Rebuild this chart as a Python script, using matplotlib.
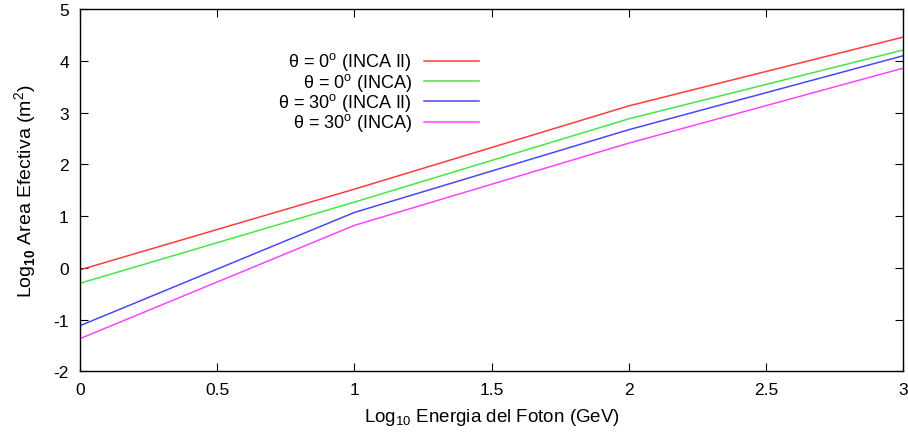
import matplotlib
matplotlib.use("Agg")
import matplotlib.pyplot as plt
from matplotlib.lines import Line2D

plt.rcParams['font.family'] = ['Liberation Sans', 'DejaVu Sans']
plt.rcParams['axes.unicode_minus'] = False
plt.rcParams['mathtext.fontset'] = 'custom'
plt.rcParams['mathtext.rm'] = 'Liberation Sans'
plt.rcParams['mathtext.bf'] = 'Liberation Sans:bold'

# log10 photon energy (GeV)
energia = [0, 1, 2, 3]

# log10 effective area (m^2) for each configuration
inca2_0 = [-0.04, 1.52, 3.13, 4.46]
inca_0 = [-0.30, 1.27, 2.88, 4.21]
inca2_30 = [-1.12, 1.07, 2.67, 4.10]
inca_30 = [-1.37, 0.82, 2.41, 3.86]

etiquetas = ['θ = 0$^{\\rm o}$ (INCA II)', 'θ = 0$^{\\rm o}$ (INCA)',
             'θ = 30$^{\\rm o}$ (INCA II)', 'θ = 30$^{\\rm o}$ (INCA)']
colores = ['#ff3c3c', '#44e844', '#4848ff', '#ff44ff']

fig, ax = plt.subplots(figsize=(9.08, 4.39), dpi=100)
fig.subplots_adjust(left=0.088, right=0.995, top=0.977, bottom=0.152)

series = [inca2_0, inca_0, inca2_30, inca_30]
for y, c in zip(series, colores):
    ax.plot(energia, y, color=c, lw=1.1)

ax.set_xlim(0, 3)
ax.set_ylim(-2, 5)
ax.set_xticks([0, 0.5, 1, 1.5, 2, 2.5, 3])
ax.set_xticklabels(['0', '0.5', '1', '1.5', '2', '2.5', '3'])
ax.set_yticks(range(-2, 6))
ax.tick_params(direction='in', top=True, right=True, length=6, labelsize=12.5, pad=8)
for s in ax.spines.values():
    s.set_linewidth(1.0)

ax.set_xlabel('Log$_{10}$ Energia del Foton (GeV)', fontsize=13.5, labelpad=6)
ax.set_ylabel('Log$_{\\bf 10}$ Area Efectiva (m$^2$)', fontsize=14, labelpad=10)

# key in the upper left, text right-aligned before each sample line
W, H = 908.0, 439.0
filas = [61.7, 82.3, 102.3, 123.0]
for lab, c, fy in zip(etiquetas, colores, filas):
    fig.text(412 / W, 1 - (fy + 5.5) / H, lab, ha='right', va='baseline', fontsize=13)
    fig.add_artist(Line2D([424 / W, 479 / W], [1 - fy / H, 1 - fy / H], color=c, lw=1.1))

fig.savefig('out.png', dpi=100)
